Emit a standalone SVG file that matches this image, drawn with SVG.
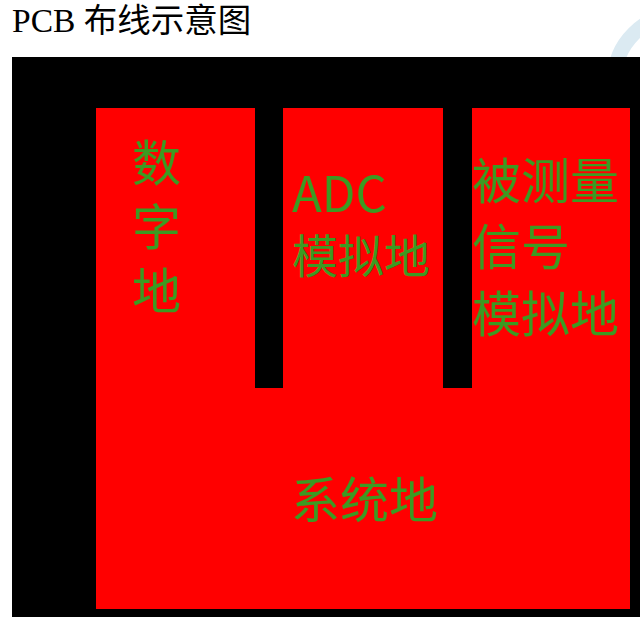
<svg xmlns="http://www.w3.org/2000/svg" width="640" height="617" viewBox="0 0 640 617">
  <style>
    .title { font-family: "Liberation Serif", "Noto Sans CJK SC", serif; font-size: 33.5px; fill: #000; }
    .lbl { font-family: "Noto Sans CJK SC", "Noto Sans", sans-serif; font-size: 49px; fill: #3c9a22; }
  </style>
  <rect width="640" height="617" fill="#fff"/>
  <circle id="watermark" cx="680" cy="80" r="65.5" fill="none" stroke="#dbeaf2" stroke-width="15"/>
  <text id="title" class="title" x="12" y="32">PCB 布线示意图</text>
  <g id="board">
    <rect x="12" y="57" width="628" height="560" fill="#000"/>
    <path d="M96,108 H255 V388 H283 V108 H443 V388 H472 V108 H630 V609 H96 Z" fill="#ff0000"/>
  </g>
  <g id="digital-ground">
    <text class="lbl" x="132" y="181">数<tspan x="132" dy="64">字</tspan><tspan x="132" dy="64">地</tspan></text>
  </g>
  <g id="adc-analog-ground">
    <text class="lbl" x="292" y="212">ADC<tspan x="292" dy="61" font-size="46">模拟地</tspan></text>
  </g>
  <g id="signal-analog-ground">
    <text class="lbl" x="472" y="199">被测量<tspan x="472" dy="66">信号</tspan><tspan x="472" dy="67">模拟地</tspan></text>
  </g>
  <g id="system-ground">
    <text class="lbl" x="291" y="518">系统地</text>
  </g>
  <g id="connectors"/>
</svg>
